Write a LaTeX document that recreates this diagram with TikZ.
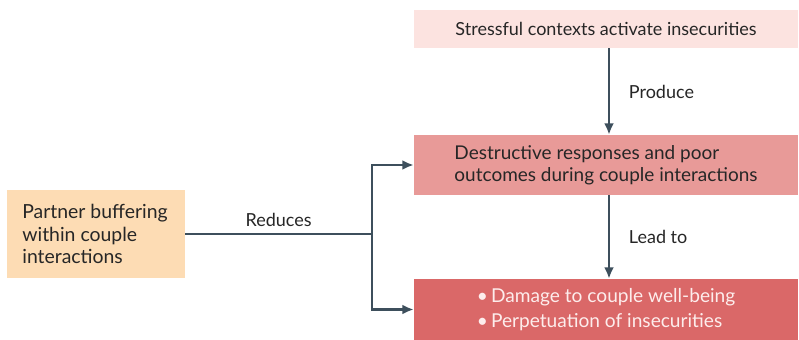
\documentclass[tikz,border=0pt]{standalone}
\usepackage{fontspec}
\setmainfont{Lato}
\usetikzlibrary{arrows.meta}
\definecolor{linegrey}{HTML}{3D4F5C}
\definecolor{peach}{HTML}{FDDCB4}
\definecolor{palepink}{HTML}{FCE3E0}
\definecolor{midpink}{HTML}{E89A98}
\definecolor{deeppink}{HTML}{DA6868}
\definecolor{bullettext}{HTML}{FDEDEC}
\begin{document}
\begin{tikzpicture}[x=0.025cm,y=-0.025cm,
        box/.style = {inner sep=0pt,
            font=\fontsize{13.5}{16}\selectfont,
            text=black!85},
        arr/.style = {draw=linegrey, line width=1.7pt,
            -{Latex[length=8pt,width=7pt]}},
        conn/.style = {draw=linegrey, line width=1.7pt},
        lbl/.style = {font=\fontsize{12.8}{15}\selectfont, text=black!85}]

        \useasboundingbox (0,0) rectangle (799,340);

        % Boxes
        \node[box,fill=palepink,minimum width=9.6cm,minimum height=0.95cm,
            font=\fontsize{12.8}{16}\selectfont] (stress) at (606,29)
            {Stressful contexts activate insecurities};
        \node[box,fill=midpink,minimum width=9.6cm,minimum height=1.5cm,align=left] (destr) at (606,165)
            {Destructive responses and poor\\outcomes during couple interactions};
        \node[box,fill=deeppink,minimum width=9.6cm,minimum height=1.525cm,align=left,text=bullettext,
            font=\fontsize{13.6}{18}\selectfont] (damage) at (606,309.5)
            {•\,Damage to couple well-being\\•\,Perpetuation of insecurities};
        \node[box,fill=peach,minimum width=4.45cm,minimum height=2.2cm,align=left,
            font=\fontsize{13.8}{16}\selectfont] (buffer) at (96,234)
            {\hspace*{-0.05cm}Partner buffering\\\hspace*{-0.05cm}within couple\\\hspace*{-0.05cm}interactions};

        % Fork
        \coordinate (fork) at (372,234);

        % Connectors
        \draw[arr] (stress.south -| 609,0) -- (destr.north -| 609,0)
            node[midway,right,lbl,xshift=10pt] {Produce};
        \draw[arr] (destr.south -| 609,0) -- (damage.north -| 609,0)
            node[midway,right,lbl,xshift=10pt] {Lead to};
        \draw[conn] (buffer.east) -- (fork)
            node[midway,above,lbl,yshift=1pt] {Reduces};
        \draw[arr] (fork) |- (destr.west);
        \draw[arr] (fork) |- (damage.west);

    \end{tikzpicture}
\end{document}
